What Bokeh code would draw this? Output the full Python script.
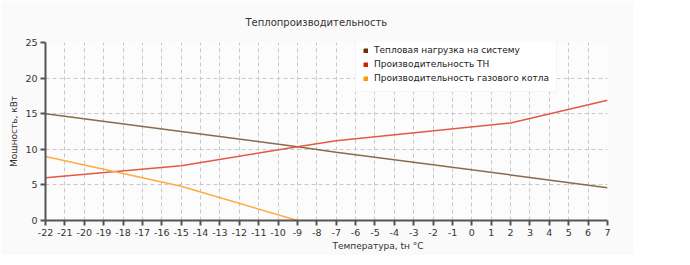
from bokeh.plotting import figure
from bokeh.models import FixedTicker, Range1d, Legend, LegendItem, Title
from bokeh.embed import file_html
from bokeh.resources import INLINE

# Data
temps = [-22, -15, -9, -7, 2, 7]
load = [15.0, 12.5, 10.35, 9.6, 6.4, 4.6]
hp = [6.0, 7.7, 10.35, 11.2, 13.7, 16.9]
gas_temps = [-22, -15, -9]
gas = [9.0, 4.8, 0.0]
x_ticks = list(range(-22, 8))
y_ticks = [0, 5, 10, 15, 20, 25]
names = ["Тепловая нагрузка на систему", "Производительность ТН", "Производительность газового котла"]

FONT = "DejaVu Sans"

p = figure(width=633, height=255, output_backend="svg", toolbar_location=None,
           x_range=Range1d(-22, 7), y_range=Range1d(0, 25),
           min_border_left=45, min_border_right=26, min_border_top=42, min_border_bottom=35)
p.background_fill_color = "#fcfcfc"
p.border_fill_color = "#fafafa"
p.outline_line_color = None

p.title.text = "Теплопроизводительность"
p.title.text_font = FONT
p.title.text_font_size = "10px"
p.title.text_font_style = "normal"
p.title.text_color = "#333333"
p.title.align = "left"
p.title.offset = 200
p.title.standoff = 29

for ax in (p.xaxis[0], p.yaxis[0]):
    ax.axis_line_color = "#555555"
    ax.axis_line_width = 2
    ax.major_tick_line_color = "#555555"
    ax.major_tick_line_width = 2
    ax.major_tick_out = 5
    ax.major_tick_in = 0
    ax.minor_tick_line_color = None
    ax.major_label_text_font = FONT
    ax.major_label_text_font_size = "9.5px"
    ax.major_label_text_color = "#333333"
    ax.axis_label_text_font = FONT
    ax.axis_label_text_font_size = "9px"
    ax.axis_label_text_font_style = "normal"
    ax.axis_label_text_color = "#333333"

p.xaxis.ticker = FixedTicker(ticks=x_ticks)
p.yaxis.ticker = FixedTicker(ticks=y_ticks)
p.xaxis.major_label_overrides = {t: str(t) for t in x_ticks}
p.yaxis.major_label_overrides = {t: str(t) for t in y_ticks}
p.yaxis.axis_label = "Мощность, кВт"
p.yaxis.axis_label_standoff = 3
p.xaxis.major_label_standoff = 3
p.yaxis.major_label_standoff = 3

xlabel = Title(text="Температура, tн °С", align="left", offset=287,
               text_font=FONT, text_font_size="9px", text_font_style="normal",
               text_color="#333333", standoff=0)
p.add_layout(xlabel, "below")

for g in (p.xgrid[0], p.ygrid[0]):
    g.grid_line_color = "#c8c8c8"
    g.grid_line_dash = "4 3"
    g.grid_line_width = 1

p.line(temps, load, line_color="#8a6a4a", line_width=1.5)
p.line(temps, hp, line_color="#e05a44", line_width=1.5)
p.line(gas_temps, gas, line_color="#ffaa44", line_width=1.5)

marker_colors = ["#663300", "#cc2200", "#ff9900"]
items = []
for name, c in zip(names, marker_colors):
    r = p.quad(left=[float("nan")], right=[float("nan")], bottom=[float("nan")], top=[float("nan")],
               fill_color=c, line_color=c)
    items.append(LegendItem(label=name, renderers=[r]))

legend = Legend(items=items, location=(310, 128))
legend.label_text_font = FONT
legend.label_text_font_size = "9px"
legend.label_text_color = "#222222"
legend.glyph_width = 5
legend.glyph_height = 5
legend.label_height = 12
legend.label_standoff = 6
legend.spacing = 2
legend.padding = 7
legend.margin = 0
legend.border_line_color = "#e8e8e8"
legend.background_fill_color = "white"
legend.background_fill_alpha = 1
p.add_layout(legend, "center")

open("out.html", "w").write(file_html(p, INLINE))
